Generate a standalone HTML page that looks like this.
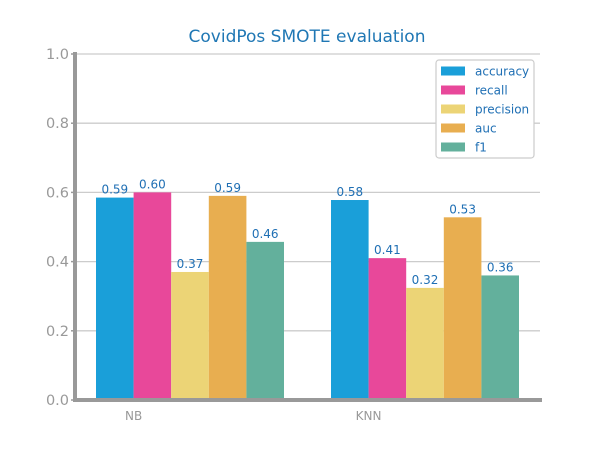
<!DOCTYPE html>
<html><head><meta charset="utf-8"><style>
body{margin:0;background:#fff;}
svg{display:block;font-family:"DejaVu Sans","Liberation Sans",sans-serif;}
</style></head><body>
<svg id="chart" width="600" height="450"></svg>
<script>
const categories=["NB","KNN"];
const seriesNames=["accuracy","recall","precision","auc","f1"];
const accuracy=[0.585,0.578];
const recall=[0.60,0.41];
const precision=[0.37,0.324];
const auc=[0.59,0.528];
const f1=[0.457,0.36];
const labelsText=[["0.59","0.60","0.37","0.59","0.46"],["0.58","0.41","0.32","0.53","0.36"]];
const yTicks=[0,0.2,0.4,0.6,0.8,1.0];
const yTickLabels=["0.0","0.2","0.4","0.6","0.8","1.0"];
const colors=["#1a9fd9","#e8489a","#ecd476","#e8ae50","#63b09c"];
const series=[accuracy,recall,precision,auc,f1];
const svg=document.getElementById('chart');
const NS='http://www.w3.org/2000/svg';
const x0=75,x1=540,yBase=400,yTop=54;
const y=v=>yBase-v*(yBase-yTop);
const groupStart=[96,331],barW=37.6;
function mk(t,a,txt){const e=document.createElementNS(NS,t);for(const k in a)e.setAttribute(k,a[k]);if(txt!==undefined)e.textContent=txt;svg.appendChild(e);return e;}
let e=mk('text',{x:307,y:42,'text-anchor':'middle','font-size':17,fill:'#1f77b4'},'CovidPos SMOTE evaluation');


yTicks.forEach((t,i)=>{
 if(t>0){const g=mk('line',{x1:x0,x2:x1,y1:y(t),y2:y(t),stroke:'#cccccc','stroke-width':1.3});
 
 }
 mk('line',{x1:x0-4,x2:x0,y1:y(t),y2:y(t),stroke:'#999','stroke-width':1.5});
 const l=mk('text',{x:x0-6,y:y(t)+5,'text-anchor':'end','font-size':14.5,fill:'#999'},yTickLabels[i]);
 
 
});
categories.forEach((c,ci)=>{
 series.forEach((s,si)=>{
  const bx=groupStart[ci]+si*barW;
  const r=mk('rect',{x:bx,y:y(s[ci]),width:barW,height:yBase-y(s[ci]),fill:colors[si]});
  
  
  const t=mk('text',{x:bx+barW/2,y:y(s[ci])-4,'text-anchor':'middle','font-size':12,fill:'#1f6fb4'},labelsText[ci][si]);
  
  
 });
 const xl=mk('text',{x:groupStart[ci]+barW,y:420,'text-anchor':'middle','font-size':12,fill:'#999'},c);
 
 
});
e=mk('line',{x1:x0,x2:x0,y1:52,y2:402,stroke:'#999','stroke-width':4});


e=mk('line',{x1:73,x2:542,y1:yBase,y2:yBase,stroke:'#999','stroke-width':4});


e=mk('rect',{x:436,y:60,width:98,height:98,rx:3,fill:'#fff',stroke:'#ccc','stroke-width':1.2});


seriesNames.forEach((n,i)=>{
 const ly=71+i*19;
 const sw=mk('rect',{x:441,y:ly-4.5,width:24,height:9,fill:colors[i]});
 
 
 const lt=mk('text',{x:475,y:ly+4.5,'font-size':12,fill:'#1f6fb4'},n);
 
 
});
</script>
</body></html>
